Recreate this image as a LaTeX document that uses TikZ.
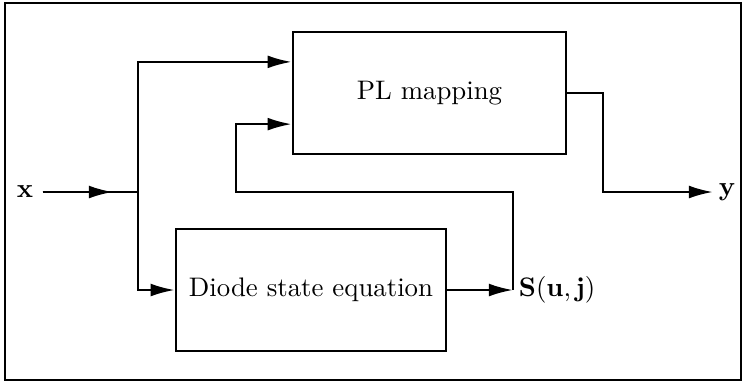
\documentclass[tikz,border=0pt]{standalone}
\usepackage{amsmath}
\usepackage{tikz}
\usetikzlibrary{arrows.meta,positioning,calc}
\tikzset{
    blockbox/.style={rectangle, draw, line width=0.9pt, minimum width=3.54cm, minimum height=1.6cm, align=center, font=\normalsize},
    arrow/.style={-{Latex[length=9pt,width=4.8pt]}, line width=0.9pt},
    wire/.style={line width=0.9pt},
    frame/.style={draw, line width=0.45pt}
}

\begin{document}
\begin{tikzpicture}[x=0.0131cm, y=-0.0131cm]

    % Frame
    \useasboundingbox (0,0) rectangle (744,383);
    \draw[frame] (5,3) rectangle (741,380);

    % Nodes
    \node[blockbox, minimum width=3.58cm] (plmap) at (429.5,93) {PL mapping};
    \node[blockbox] (diode) at (311,290) {Diode state equation};
    \node (xin) at (25,192) {$\mathbf{x}$};
    \coordinate (xmid) at (113,192);
    \coordinate (split) at (138,192);
    \coordinate (tap) at (513,290);
    \node[anchor=west, inner sep=2pt] (suj) at (tap) {$\mathbf{S}(\mathbf{u},\mathbf{j})$};
    \coordinate (fbleft) at (236,192);
    \coordinate (ybend) at (603,192);
    \coordinate (ytip) at (713,192);
    \node[anchor=west, inner sep=2pt] (yout) at (ytip) {$\mathbf{y}$};
    \coordinate (plin1) at ($(plmap.north west)!0.25!(plmap.south west)$);
    \coordinate (plin2) at ($(plmap.north west)!0.75!(plmap.south west)$);

    % Arrows
    \draw[wire] (xin.east) -- (split);
    \draw[arrow] (xin.east) -- (xmid);
    \draw[arrow] (split) |- (plin1);
    \draw[arrow] (split) |- (diode.west);
    \draw[arrow] (diode.east) -- (tap);
    \draw[arrow] (tap) |- (fbleft) |- (plin2);
    \draw[arrow] (plmap.east) -| (ybend) -- (ytip);

\end{tikzpicture}
\end{document}
